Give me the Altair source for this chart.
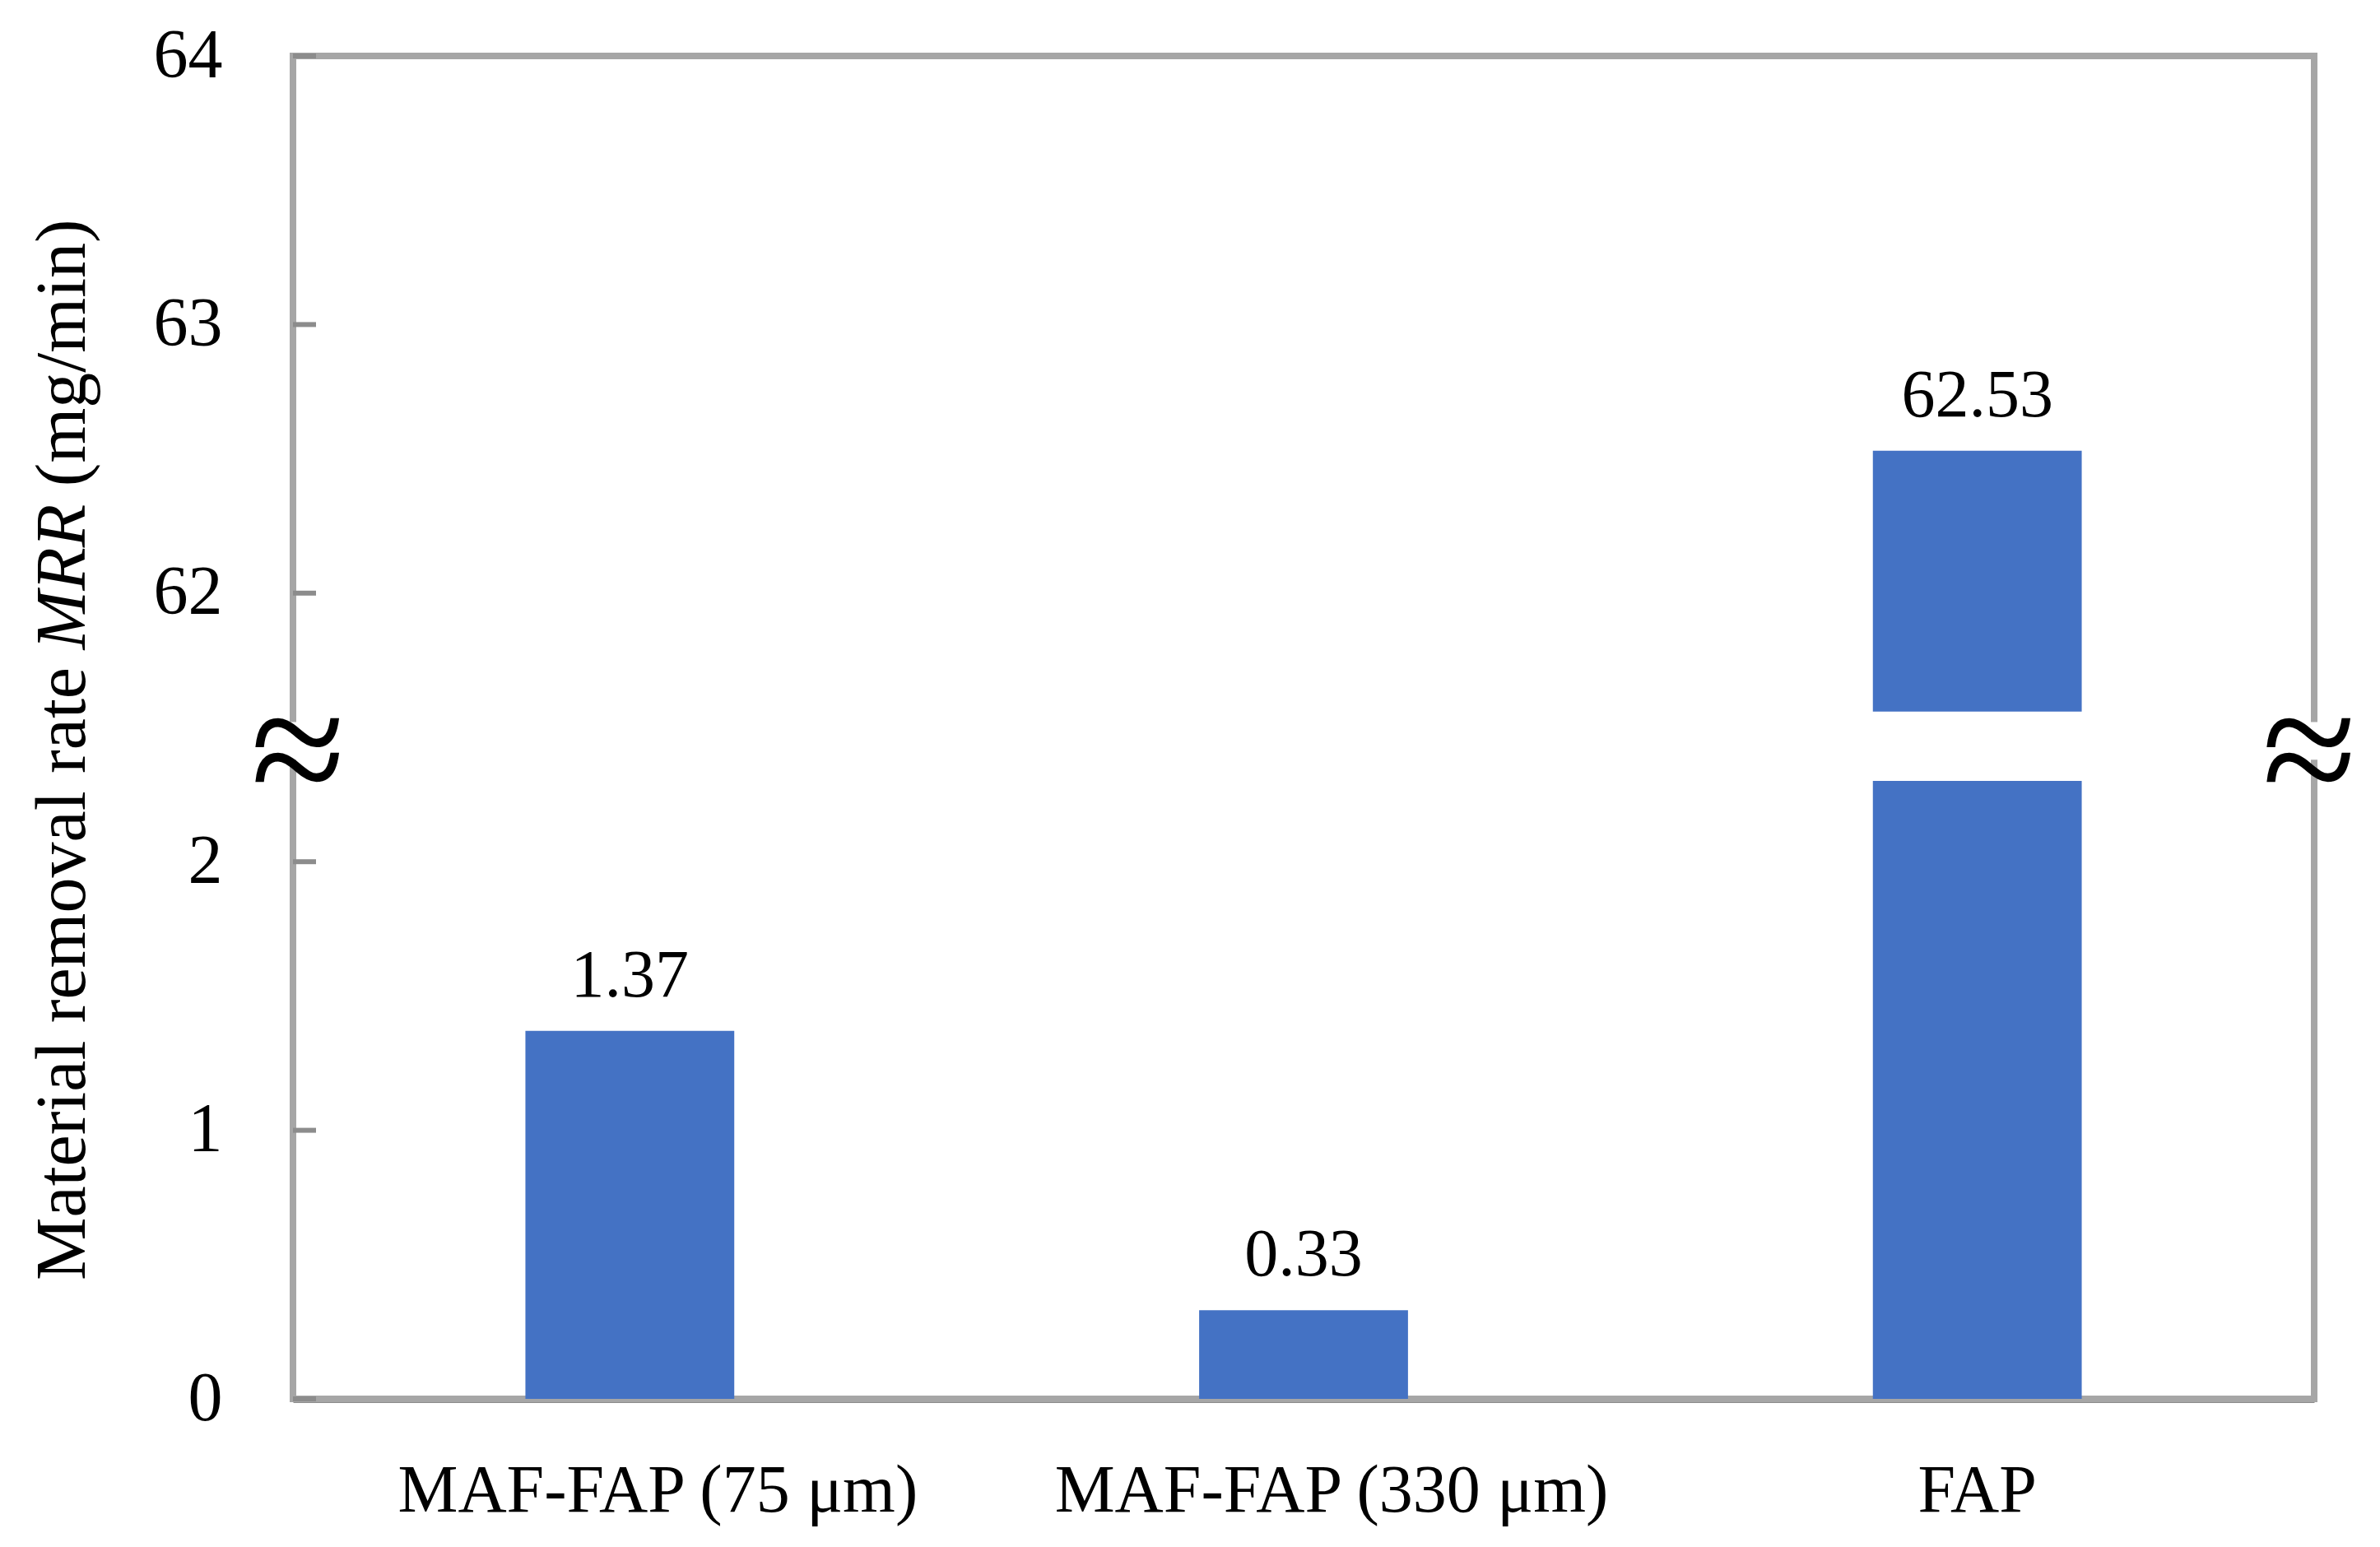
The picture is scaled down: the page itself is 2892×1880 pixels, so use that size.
import altair as alt
import pandas as pd

# ---- data ----
categories = ["MAF-FAP (75 μm)", "MAF-FAP (330 μm)", "FAP"]
mrr_values = [1.37, 0.33, 62.53]
value_labels = ["1.37", "0.33", "62.53"]

# broken axis: lower segment 0..2.x, upper segment 61.x..64
axis_offset = 59          # value subtracted from the upper segment
break_pos = 2.45          # position of the break on the compressed scale
tick_positions = [0, 1, 2, 3, 4, 5]   # shown as 0, 1, 2, 62, 63, 64

# y title in three runs (the symbol MRR is italic)
title_parts = ["Material removal rate", "MRR", "(mg/min)"]

W, H = 2456, 1632
FONT = "Liberation Serif"
BLUE = "#4472C4"
TITLE_SIZE = 86

df = pd.DataFrame({"category": categories, "value": mrr_values, "label": value_labels})
ticks_df = pd.DataFrame({"tick": tick_positions})
one = pd.DataFrame({"k": [0]})

base = alt.Chart(df).transform_calculate(
    pos=f"datum.value > {break_pos} ? datum.value - {axis_offset} : datum.value"
)

xenc = alt.X(
    "category:N",
    sort=categories,
    title=None,
    scale=alt.Scale(paddingInner=0.69, paddingOuter=0.345),
    axis=alt.Axis(
        labelAngle=0,
        labelFont=FONT,
        labelFontSize=82,
        labelColor="black",
        labelPadding=71,
        labelLimit=0,
        labelOffset={"condition": {"test": "datum.value === 'FAP'", "value": 0}, "value": 34},
        ticks=False,
        domainColor="#8C8C8C",
        domainWidth=9,
    ),
)

yscale = alt.Scale(domain=[0, 5], nice=False, zero=True)
yaxis = alt.Axis(
    values=tick_positions,
    labelExpr=f"datum.value > {break_pos} ? datum.value + {axis_offset} : datum.value",
    labelFont=FONT,
    labelFontSize=84,
    labelColor="black",
    labelPadding=86,
    ticks=False,
    domain=False,
    grid=False,
    title=None,
)

frame = alt.Chart(one).mark_rect(fill=None, stroke="#A6A6A6", strokeWidth=8).encode(
    x=alt.value(0), x2=alt.value(W), y=alt.value(0), y2=alt.value(H)
)

inner_ticks = alt.Chart(ticks_df).mark_rule(color="#8C8C8C", strokeWidth=6).encode(
    x=alt.value(0), x2=alt.value(28), y=alt.Y("tick:Q", scale=yscale)
)

bars = base.mark_bar(color=BLUE).encode(
    x=xenc,
    y=alt.Y("pos:Q", scale=yscale, axis=yaxis),
)

labels = base.mark_text(
    font=FONT, fontSize=82, color="black", baseline="alphabetic", dy=-42
).encode(x=alt.X("category:N", sort=categories), y=alt.Y("pos:Q"), text="label:N")

# white gap through the broken bar
gap = base.transform_filter(f"datum.value > {break_pos}").mark_bar(
    color="white", stroke="white", strokeWidth=6
).encode(
    x=alt.X("category:N", sort=categories),
    y=alt.datum(break_pos - 0.14),
    y2=alt.datum(break_pos + 0.10),
)

# interruptions of the left / right frame lines
cut_left = alt.Chart(one).mark_rect(color="white").encode(
    x=alt.value(-12), x2=alt.value(12),
    y=alt.datum(break_pos - 0.07), y2=alt.datum(break_pos + 0.07),
)
cut_right = alt.Chart(one).mark_rect(color="white").encode(
    x=alt.value(W - 12), x2=alt.value(W + 12),
    y=alt.datum(break_pos - 0.07), y2=alt.datum(break_pos + 0.07),
)
sym_left = alt.Chart(one).mark_text(
    text="≈", font=FONT, fontSize=210, color="black", baseline="middle", dy=18
).encode(x=alt.value(6), y=alt.datum(break_pos))
sym_right = alt.Chart(one).mark_text(
    text="≈", font=FONT, fontSize=210, color="black", baseline="middle", dy=18
).encode(x=alt.value(W - 6), y=alt.datum(break_pos))

# y-axis title built from three runs (Times metrics, em widths incl. following space)
em_run1 = 8.914   # "Material removal rate "
em_run2 = 2.055   # italic "MRR"
em_space = 0.25
title_x = -279
title_bottom = 1488
t1 = alt.Chart(one).mark_text(
    text=title_parts[0], font=FONT, fontSize=TITLE_SIZE, color="black",
    angle=270, align="left", baseline="middle",
).encode(x=alt.value(title_x), y=alt.value(title_bottom))
t2 = alt.Chart(one).mark_text(
    text=title_parts[1], font=FONT, fontSize=TITLE_SIZE, fontStyle="italic", color="black",
    angle=270, align="left", baseline="middle",
).encode(x=alt.value(title_x), y=alt.value(title_bottom - em_run1 * TITLE_SIZE))
t3 = alt.Chart(one).mark_text(
    text=title_parts[2], font=FONT, fontSize=TITLE_SIZE, color="black",
    angle=270, align="left", baseline="middle",
).encode(x=alt.value(title_x),
         y=alt.value(title_bottom - (em_run1 + em_run2 + em_space) * TITLE_SIZE))

chart = alt.layer(
    frame, inner_ticks, bars, labels, gap, cut_left, cut_right, sym_left, sym_right, t1, t2, t3
).properties(
    width=W,
    height=H,
    background="white",
    autosize=alt.AutoSizeParams(type="none"),
    padding={"left": 348, "top": 60, "right": 72, "bottom": 172},
).configure_view(stroke=None)

chart.save("out.html", embed_options={"renderer": "svg", "actions": False})
